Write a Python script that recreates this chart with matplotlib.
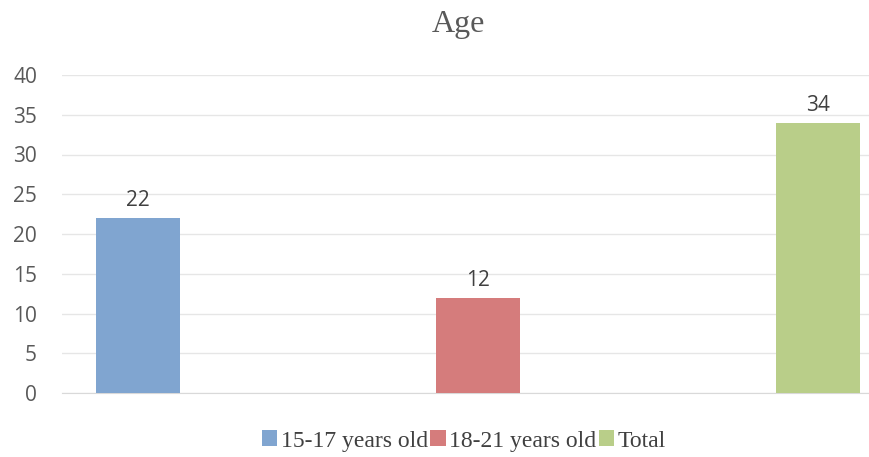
import numpy as np
import matplotlib.pyplot as plt
from matplotlib.patches import Patch

# data
series = ["15-17 years old", "18-21 years old", "Total"]
values = [22, 12, 34]
colors = ["#80A5D0", "#D57C7C", "#B9CE89"]
yticks = [0, 5, 10, 15, 20, 25, 30, 35, 40]

W, H = 869, 457
fig = plt.figure(figsize=(W / 100, H / 100), dpi=100)
ax = fig.add_axes([62 / W, 1 - 393 / H, 1 - 62 / W, (393 - 75) / H])

x = np.arange(len(values))
bars = ax.bar(x, values, width=84 / 340, color=colors, zorder=3)
for xi, v in zip(x, values):
    ax.text(xi, v + 1.5, str(v), ha="center", va="baseline",
            fontsize=15, color="#404040", family="Open Sans")

ax.set_xlim(-76 / 340, 2 + 51 / 340)
ax.set_ylim(0, 40)
ax.set_yticks(yticks)
ax.set_yticklabels([str(t) for t in yticks], family="Open Sans", fontsize=15, color="#595959")
ax.set_xticks([])
ax.tick_params(axis="y", length=0, pad=18)
ax.grid(axis="y", color="#E6E6E6", linewidth=1, zorder=0)
for s in ax.spines.values():
    s.set_visible(False)
ax.spines["bottom"].set_visible(True)
ax.spines["bottom"].set_color("#D9D9D9")

fig.text(458 / W, 1 - 32 / H, "Age", ha="center", va="baseline",
         family="Liberation Serif", fontsize=23, color="#595959")

handles = [Patch(facecolor=c, edgecolor="none") for c in colors]
fig.legend(handles, series, loc="center", bbox_to_anchor=(464 / W, 1 - 441 / H), ncol=3,
           frameon=False, handlelength=0.65, handleheight=0.65, handletextpad=0.15,
           columnspacing=0.1, prop={"family": "Liberation Serif", "size": 17},
           labelcolor="#404040")

fig.savefig("out.png", dpi=100)
